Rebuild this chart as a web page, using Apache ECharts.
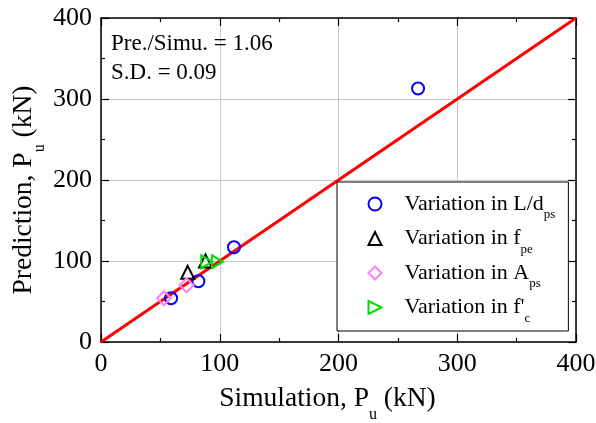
<!DOCTYPE html>
<html>
<head>
<meta charset="utf-8">
<script src="https://cdn.jsdelivr.net/npm/echarts@6/dist/echarts.min.js"></script>
<style>
  html, body { margin: 0; padding: 0; background: #fff; }
  #chart { width: 596px; height: 423px; }
</style>
</head>
<body>
<div id="chart"></div>
<script>
// Simulated vs. predicted ultimate load, grouped by the varied parameter
const axisTicks = [0, 100, 200, 300, 400];
const varLdps = [[59, 54], [82, 75], [112, 117], [267, 313]];
const varFpe = [[73, 86], [88, 100]];
const varAps = [[53, 54], [72, 70]];
const varFc = [[89, 99], [98, 99]];
const equalityLine = [[0, 0], [400, 400]];
const statsText = ['Pre./Simu. = 1.06', 'S.D. = 0.09'];

const FONT = '"Liberation Serif", "Times New Roman", serif';
// rich-text styles: g = spacer, m = normal text, s = subscript (pinned to the line bottom)
const legendRich = {
  g: { width: 18, fontSize: 22, lineHeight: 24, padding: 0 },
  m: { fontFamily: FONT, fontSize: 22, color: '#000', lineHeight: 24, padding: 0 },
  s: { fontFamily: FONT, fontSize: 13, color: '#000', lineHeight: 2, height: 2, padding: 0, verticalAlign: 'bottom' }
};
const nameRich = {
  m: { fontFamily: FONT, fontSize: 27.5, color: '#000', lineHeight: 34 },
  s: { fontFamily: FONT, fontSize: 16, color: '#000', lineHeight: 2, height: 2, verticalAlign: 'bottom' }
};

const legendLabels = {
  'Ldps': '{g| }{m|Variation in L/d}{s|ps}',
  'fpe': '{g| }{m|Variation in f}{s|pe}',
  'Aps': '{g| }{m|Variation in A}{s|ps}',
  'fc': "{g| }{m|Variation in f'}{s|c}"
};

function baseAxis(position, showLabels) {
  return {
    type: 'value', min: axisTicks[0], max: axisTicks[axisTicks.length - 1], interval: 100,
    position: position,
    axisLine: { show: true, onZero: false, lineStyle: { color: '#000', width: 1.5 } },
    axisTick: { show: true, inside: true, length: 8, lineStyle: { color: '#000', width: 1.2 } },
    minorTick: { show: true, splitNumber: 2, length: 4, lineStyle: { color: '#000', width: 1.2 } },
    axisLabel: { show: showLabels, fontFamily: FONT, fontSize: 26, color: '#000', margin: 9 },
    splitLine: { show: showLabels, lineStyle: { color: '#c8c8c8', width: 1 } }
  };
}

const xMain = Object.assign(baseAxis('bottom', true), {
  name: '{m|Simulation, P}{s|u}{m| (kN)}', nameLocation: 'middle', nameGap: 40,
  nameTextStyle: { rich: nameRich, padding: [0, 22, 0, 0] }
});
const yMain = Object.assign(baseAxis('left', true), {
  name: '{m|Prediction, P}{s|u}{m| (kN)}', nameLocation: 'middle', nameGap: 60,
  nameMoveOverlap: false,
  nameTextStyle: { rich: nameRich, padding: [0, 20, 0, 0] }
});

const chart = echarts.init(document.getElementById('chart'));
chart.setOption({
  animation: false,
  backgroundColor: '#fff',
  grid: { left: 101, right: 20, top: 18, bottom: 81, outerBoundsMode: 'none', containLabel: false },
  xAxis: [xMain, baseAxis('top', false)],
  yAxis: [yMain, baseAxis('right', false)],
  title: {
    text: statsText.join('\n'), left: 106, top: 24,
    textStyle: { fontFamily: FONT, fontSize: 23, fontWeight: 'normal', color: '#000', lineHeight: 29 }
  },
  legend: {
    orient: 'vertical', left: 337, top: 182,
    padding: [11, 13, 6, 29], itemGap: 6, itemWidth: 13, itemHeight: 13,
    backgroundColor: '#fff', borderColor: '#000', borderWidth: 1,
    data: ['Ldps', 'fpe', 'Aps', 'fc'],
    formatter: name => legendLabels[name],
    textStyle: { rich: legendRich }
  },
  series: [
    {
      type: 'line', data: equalityLine, symbol: 'none', silent: true,
      lineStyle: { color: '#ff0000', width: 3 }, z: 1
    },
    {
      name: 'Ldps', type: 'scatter', data: varLdps, symbol: 'circle', symbolSize: 12,
      itemStyle: { color: 'none', borderColor: '#0000ff', borderWidth: 2, opacity: 1 }, z: 3
    },
    {
      name: 'fpe', type: 'scatter', data: varFpe, symbol: 'triangle', symbolSize: 13,
      itemStyle: { color: 'none', borderColor: '#000', borderWidth: 2, opacity: 1 }, z: 3
    },
    {
      name: 'Aps', type: 'scatter', data: varAps, symbol: 'diamond', symbolSize: 14,
      itemStyle: { color: 'none', borderColor: '#ff80ff', borderWidth: 2, opacity: 1 }, z: 3
    },
    {
      name: 'fc', type: 'scatter', data: varFc, symbol: 'path://M0,0L10,5L0,10Z', symbolSize: [11, 13],
      itemStyle: { color: 'none', borderColor: '#00e000', borderWidth: 2, opacity: 1 }, z: 3
    }
  ]
});
</script>
</body>
</html>
